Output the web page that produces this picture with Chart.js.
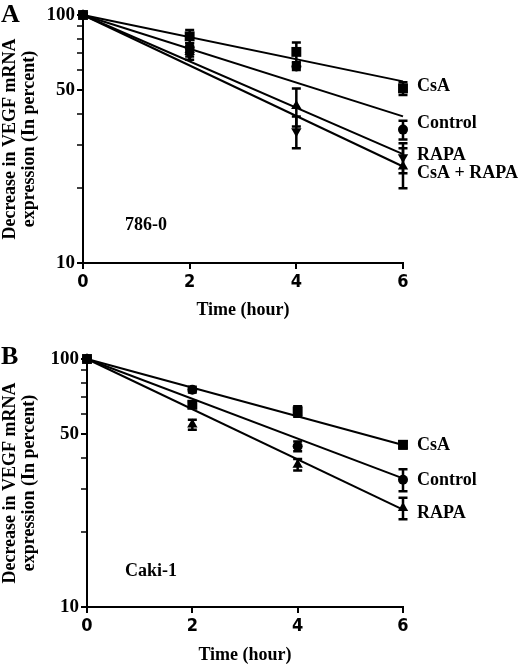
<!DOCTYPE html>
<html lang="en">
<head>
<meta charset="UTF-8">
<title>VEGF mRNA decay</title>
<script src="https://cdn.jsdelivr.net/npm/chart.js"></script>
<style>
    body {
        margin: 0;
        background: #fff;
    }
    .wrap {
        position: relative;
        width: 520px;
        height: 665px;
    }
    canvas {
        position: absolute;
        left: 0;
    }
    .letter {
        position: absolute;
        left: 1px;
        font: bold 26px 'Liberation Serif', 'Times New Roman', serif;
        line-height: 26px;
    }
</style>
</head>
<body>
<div class="wrap">
    <canvas id="chartA" width="520" height="330" style="top:0"></canvas>
    <canvas id="chartB" width="520" height="335" style="top:330px"></canvas>
    <div class="letter" style="top:1px">A</div>
    <div class="letter" style="top:343px">B</div>
</div>

<script>
// Time points (hour)
const hours = [0, 2, 4, 6];
const xTicks = [0, 2, 4, 6];
const yTicks = [10, 50, 100];

// Panel A: 786-0 cells (percent of 0 h)
const aCsA = [100, 82, 71, 50.6];
const aCsAErr = [0, 5, 6.5, 3];
const aControl = [100, 74, 62, 34.5];
const aControlErr = [0, 3, 2, 3];
const aRapa = [100, 69, 34, 26.7];
const aRapaErr = [0, 3, 5, 3.7];
const aCombo = [100, 71, 43, 24.5];
const aComboErr = [0, 3, 7.5, 4.5];
const aFitEnd = [54, 39, 27.5, 24.5]; // fitted line value at 6 h

// Panel B: Caki-1 cells
const bCsA = [100, 65.4, 61.5, 45.1];
const bCsAErr = [0, 2, 3, 1.5];
const bControl = [100, 75.2, 44.5, 32.6];
const bControlErr = [0, 2, 2, 3.3];
const bRapa = [100, 54.4, 37.5, 25.1];
const bRapaErr = [0, 2.5, 2, 2.5];
const bFitEnd = [45, 33, 24.7];

const SERIF = "'Liberation Serif', 'Times New Roman', serif";
const NARROW = "'Liberation Sans Narrow', 'DejaVu Sans Condensed', 'Liberation Sans', sans-serif";

function points(values) {
    return hours.map((h, i) => ({ x: h, y: values[i] }));
}

// marker dataset with error values attached
function markers(values, errs, style, radius, rotation) {
    return {
        data: points(values),
        errors: errs,
        showLine: false,
        pointStyle: style,
        pointRadius: radius,
        pointRotation: rotation || 0,
        backgroundColor: '#000',
        borderColor: '#000',
        borderWidth: 0,
        clip: false
    };
}

// straight fitted line on the log axis, from 100 % at 0 h to its 6 h value
function fitLine(endValue) {
    return {
        data: [{ x: hours[0], y: 100 }, { x: hours[hours.length - 1], y: endValue }],
        showLine: true,
        pointRadius: 0,
        borderColor: '#000',
        borderWidth: 2,
        fill: false,
        clip: false
    };
}

// vertical error bars with caps
const errorBars = {
    id: 'errorBars',
    afterDatasetsDraw(chart) {
        const ctx = chart.ctx;
        const y = chart.scales.y;
        ctx.save();
        ctx.strokeStyle = '#000';
        ctx.lineWidth = 2.5;
        chart.data.datasets.forEach((ds, di) => {
            if (!ds.errors) return;
            const meta = chart.getDatasetMeta(di);
            meta.data.forEach((pt, i) => {
                const e = ds.errors[i];
                if (!e) return;
                const v = ds.data[i].y;
                const top = y.getPixelForValue(v + e);
                const bot = y.getPixelForValue(v - e);
                ctx.beginPath();
                ctx.moveTo(pt.x, top);
                ctx.lineTo(pt.x, bot);
                ctx.moveTo(pt.x - 4.5, top);
                ctx.lineTo(pt.x + 4.5, top);
                ctx.moveTo(pt.x - 4.5, bot);
                ctx.lineTo(pt.x + 4.5, bot);
                ctx.stroke();
            });
        });
        ctx.restore();
    }
};

// series names at the right end of each line, and the cell line name
const textLabels = {
    id: 'textLabels',
    afterDraw(chart, args, opts) {
        const ctx = chart.ctx;
        const area = chart.chartArea;
        const y = chart.scales.y;
        ctx.save();
        ctx.fillStyle = '#000';
        ctx.font = 'bold 18px ' + SERIF;
        ctx.textBaseline = 'middle';
        ctx.textAlign = 'left';
        opts.items.forEach(item => {
            ctx.fillText(item.text, area.right + 14, y.getPixelForValue(item.value) + item.dy);
        });
        ctx.fillText(opts.cell, area.left + opts.cellDx, area.bottom - opts.cellDy);
        ctx.restore();
    }
};

function makePanel(id, datasets, pad, yWidth, xHeight, titleBottom, labels, cell, cellDx, cellDy) {
    return new Chart(document.getElementById(id), {
        type: 'scatter',
        data: { datasets: datasets },
        plugins: [errorBars, textLabels],
        options: {
            responsive: false,
            animation: false,
            layout: { padding: { top: pad, right: 117, bottom: 0, left: 0 } },
            plugins: {
                legend: { display: false },
                tooltip: { enabled: false },
                textLabels: { items: labels, cell: cell, cellDx: cellDx, cellDy: cellDy }
            },
            scales: {
                x: {
                    type: 'linear',
                    min: 0,
                    max: 6,
                    afterBuildTicks: s => { s.ticks = xTicks.map(v => ({ value: v })); },
                    afterFit: s => { s.height = xHeight; },
                    border: { display: true, color: '#000', width: 2 },
                    grid: { drawOnChartArea: false, drawTicks: true, tickLength: 6, color: '#000', lineWidth: 2 },
                    ticks: {
                        color: '#000',
                        padding: 3,
                        maxRotation: 0,
                        font: { family: NARROW, size: 18, weight: 'bold' }
                    },
                    title: {
                        display: true,
                        text: 'Time (hour)',
                        color: '#000',
                        padding: { top: 0, bottom: titleBottom },
                        font: { family: SERIF, size: 18, weight: 'bold', lineHeight: 1.05 }
                    }
                },
                y: {
                    type: 'logarithmic',
                    min: 10,
                    max: 100,
                    afterBuildTicks: s => {
                        const t = [];
                        for (let v = 10; v <= 100; v += 10) t.push({ value: v });
                        s.ticks = t;
                    },
                    afterFit: s => { s.width = yWidth; },
                    border: { display: true, color: '#000', width: 2 },
                    grid: {
                        drawOnChartArea: false,
                        drawTicks: true,
                        tickLength: 6,
                        color: '#000',
                        lineWidth: 2,
                        tickWidth: c => (yTicks.includes(c.tick.value) ? 2 : 1.5)
                    },
                    ticks: {
                        color: '#000',
                        padding: 2,
                        autoSkip: false,
                        font: { family: SERIF, size: 19, weight: 'bold' },
                        callback: v => (yTicks.includes(v) ? String(v) : '')
                    },
                    title: {
                        display: true,
                        text: ['Decrease in VEGF mRNA', 'expression (In percent)'],
                        color: '#000',
                        padding: { top: 1, bottom: 0 },
                        font: { family: SERIF, size: 18, weight: 'bold', lineHeight: 1.05 }
                    }
                }
            }
        }
    });
}

// Panel A
makePanel('chartA', [
    fitLine(aFitEnd[0]),
    fitLine(aFitEnd[1]),
    fitLine(aFitEnd[2]),
    fitLine(aFitEnd[3]),
    markers(aCsA, aCsAErr, 'rect', 7),
    markers(aControl, aControlErr, 'circle', 5),
    markers(aRapa, aRapaErr, 'triangle', 6, 180),
    markers(aCombo, aComboErr, 'triangle', 6)
], 15, 83, 67, 10.5, [
    { text: 'CsA', value: aFitEnd[0], dy: 5 },
    { text: 'Control', value: aFitEnd[1], dy: 7 },
    { text: 'RAPA', value: aFitEnd[2], dy: 1 },
    { text: 'CsA + RAPA', value: aFitEnd[3], dy: 7 }
], '786-0', 42, 38);

// Panel B
makePanel('chartB', [
    fitLine(bFitEnd[0]),
    fitLine(bFitEnd[1]),
    fitLine(bFitEnd[2]),
    markers(bCsA, bCsAErr, 'rect', 7),
    markers(bControl, bControlErr, 'circle', 5),
    markers(bRapa, bRapaErr, 'triangle', 6)
], 29, 87, 58, 0.5, [
    { text: 'CsA', value: bFitEnd[0], dy: 0 },
    { text: 'Control', value: bFitEnd[1], dy: 2 },
    { text: 'RAPA', value: bFitEnd[2], dy: 4 }
], 'Caki-1', 38, 36);
</script>
</body>
</html>
